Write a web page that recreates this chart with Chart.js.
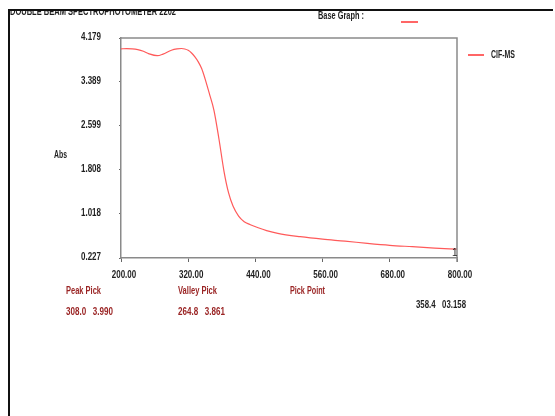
<!DOCTYPE html>
<html>
<head>
<meta charset="utf-8">
<script src="https://cdn.jsdelivr.net/npm/chart.js@4/dist/chart.umd.min.js"></script>
<style>
  html, body { margin: 0; padding: 0; background: #fff; }
  #wrap { position: relative; width: 555px; height: 416px; overflow: hidden; }
  canvas { position: absolute; left: 0; top: 0; }
  .t { position: absolute; white-space: nowrap; font-family: "Liberation Sans", Arial, sans-serif; font-weight: bold; font-size: 10px; color: #1e1e1e; line-height: 10px; transform-origin: 0 50%; }
  .red { color: #9a2424; }
  #frameTop { position: absolute; left: 8px; top: 9px; width: 545px; height: 2px; background: #111; }
  #frameLeft { position: absolute; left: 8px; top: 9px; width: 2px; height: 407px; background: #111; }
  #titleClip { position: absolute; left: 10px; top: 11px; width: 200px; height: 5px; overflow: hidden; }
  #titleClip .t { top: -4px; left: 0; }
  .swatch { position: absolute; height: 2px; background: #ff6666; }
</style>
</head>
<body>
<div id="wrap">
  <canvas id="c" width="555" height="416"></canvas>
  <div id="frameTop"></div>
  <div id="frameLeft"></div>
  <div id="titleClip"><div class="t" data-w="166">DOUBLE BEAM SPECTROPHOTOMETER 2202</div></div>
  <div class="t" data-w="46" style="left:318px;top:11px;">Base Graph :</div>
  <div class="swatch" style="left:401px;top:21px;width:17px;"></div>
  <div class="swatch" style="left:468px;top:54px;width:16px;"></div>
  <div class="t" data-w="24" style="left:491px;top:50px;">CIF-MS</div>
  <div class="t" data-w="13" style="left:54px;top:150px;">Abs</div>
  <div class="t" style="left:452px;top:248px;font-weight:normal;">1</div>
  <div class="t red" data-w="35" style="left:66px;top:286px;">Peak Pick</div>
  <div class="t red" data-w="39" style="left:178px;top:286px;">Valley Pick</div>
  <div class="t red" data-w="35" style="left:290px;top:286px;">Pick Point</div>
  <div class="t red" data-w="47" id="peakTxt" style="left:66px;top:307px;"></div>
  <div class="t red" data-w="47" id="valleyTxt" style="left:178px;top:307px;"></div>
  <div class="t" data-w="50" id="pointTxt" style="left:416px;top:300px;"></div>
</div>
<script>
// Wavelength (nm) and absorbance of the CIF-MS scan
const wavelengths = [200, 210, 220, 230, 240, 250, 264.8, 275, 290, 300, 308, 314, 320, 326, 332, 338, 344, 350, 358.4, 366, 375, 384, 392, 400, 410, 420, 430, 445, 460, 480, 520, 560, 600, 640, 680, 720, 760, 800];
const absorbance  = [3.985, 3.988, 3.985, 3.970, 3.940, 3.895, 3.861, 3.890, 3.960, 3.984, 3.990, 3.982, 3.958, 3.910, 3.840, 3.750, 3.630, 3.450, 3.158, 2.880, 2.360, 1.780, 1.400, 1.160, 0.980, 0.880, 0.830, 0.770, 0.720, 0.670, 0.610, 0.565, 0.530, 0.490, 0.455, 0.430, 0.405, 0.385];

// Axis tick values
const yTicks = [0.227, 1.018, 1.808, 2.599, 3.389, 4.179];
const xTicks = [200, 320, 440, 560, 680, 800];

// Peak / valley / pick point readouts
const peak = [308.0, 3.990];
const valley = [264.8, 3.861];
const pickPoint = [358.4, 3.158];

const gap = '\u00a0\u00a0\u00a0';
document.getElementById('peakTxt').textContent = peak[0].toFixed(1) + gap + peak[1].toFixed(3);
document.getElementById('valleyTxt').textContent = valley[0].toFixed(1) + gap + valley[1].toFixed(3);
document.getElementById('pointTxt').textContent = pickPoint[0].toFixed(1) + gap + '0' + pickPoint[1].toFixed(3);

// Squeeze the bold labels horizontally to the narrow instrument font
document.querySelectorAll('.t[data-w]').forEach(el => {
  const w = el.getBoundingClientRect().width;
  if (w > 0) el.style.transform = 'scaleX(' + (parseFloat(el.dataset.w) / w) + ')';
});

const LABEL_FONT = 'bold 10px "Liberation Sans", Arial, sans-serif';
const SQUEEZE = 0.8;

// Condensed tick labels placed at the scales' own tick positions
const narrowTicks = {
  id: 'narrowTicks',
  afterDraw(chart) {
    const ctx = chart.ctx;
    const xs = chart.scales.x, ys = chart.scales.y;
    ctx.save();
    ctx.font = LABEL_FONT;
    ctx.fillStyle = '#1e1e1e';
    ctx.textBaseline = 'middle';
    xs.ticks.forEach(t => {
      const px = xs.getPixelForValue(t.value) + 3;
      ctx.save();
      ctx.translate(px, xs.top + 17);
      ctx.scale(SQUEEZE, 1);
      ctx.textAlign = 'center';
      ctx.fillText(t.value.toFixed(2), 0, 0);
      ctx.restore();
    });
    ys.ticks.forEach(t => {
      const py = ys.getPixelForValue(t.value) - 1;
      ctx.save();
      ctx.translate(ys.right - 20, py);
      ctx.scale(SQUEEZE, 1);
      ctx.textAlign = 'right';
      ctx.fillText(t.value.toFixed(3), 0, 0);
      ctx.restore();
    });
    ctx.restore();
  }
};

// Gray box around the plot area (top and right edges)
const plotBox = {
  id: 'plotBox',
  afterDraw(chart) {
    const a = chart.chartArea, ctx = chart.ctx;
    ctx.save();
    ctx.strokeStyle = '#8a8a8a';
    ctx.lineWidth = 1.5;
    ctx.beginPath();
    ctx.moveTo(a.left, a.top);
    ctx.lineTo(a.right, a.top);
    ctx.lineTo(a.right, a.bottom + 4);
    ctx.stroke();
    ctx.restore();
  }
};

new Chart(document.getElementById('c'), {
  type: 'line',
  data: {
    datasets: [{
      label: 'CIF-MS',
      data: wavelengths.map((w, i) => ({ x: w, y: absorbance[i] })),
      borderColor: '#ff5a5a',
      borderWidth: 1.2,
      pointRadius: 0,
      cubicInterpolationMode: 'monotone',
      fill: false
    }]
  },
  options: {
    responsive: false,
    animation: false,
    layout: { padding: { left: 0, right: 98, top: 38, bottom: 0 } },
    plugins: { legend: { display: false }, tooltip: { enabled: false } },
    scales: {
      x: {
        type: 'linear',
        min: 200, max: 800,
        afterFit(s) { s.height = 158; },
        afterBuildTicks(s) { s.ticks = xTicks.map(v => ({ value: v })); },
        ticks: { display: false },
        grid: { drawOnChartArea: false, drawTicks: true, tickLength: 4, color: '#666', lineWidth: 1 },
        border: { color: '#8a8a8a', width: 1.5 }
      },
      y: {
        type: 'linear',
        min: 0.227, max: 4.179,
        afterFit(s) { s.width = 121; },
        afterBuildTicks(s) { s.ticks = yTicks.map(v => ({ value: v })); },
        ticks: { display: false },
        grid: { drawOnChartArea: false, drawTicks: true, tickLength: 2, color: '#666', lineWidth: 1 },
        border: { color: '#8a8a8a', width: 1.5 }
      }
    }
  },
  plugins: [plotBox, narrowTicks]
});
</script>
</body>
</html>
